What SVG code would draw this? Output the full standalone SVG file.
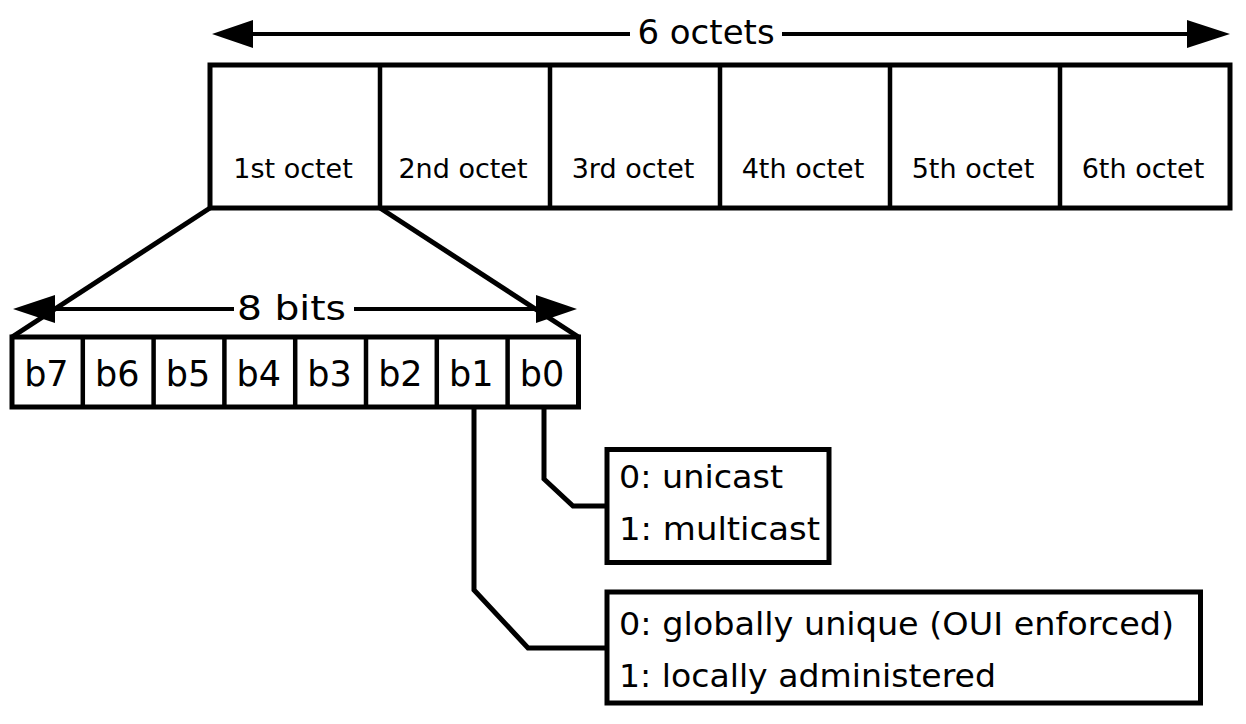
<svg xmlns="http://www.w3.org/2000/svg" width="1246" height="724" viewBox="0 0 1246 724">
  <style>
    .box { fill: #fff; stroke: #000; stroke-width: 5; }
    .div { stroke: #000; stroke-width: 4.5; fill: none; }
    .ln { stroke: #000; stroke-width: 5; fill: none; stroke-linejoin: miter; }
    .dim { stroke: #000; stroke-width: 4; fill: none; }
    text { font-family: "DejaVu Sans", sans-serif; fill: #000; }
    .oct { font-size: 27px; text-anchor: middle; }
    .bit { font-size: 35px; text-anchor: middle; }
    .big { font-size: 34px; text-anchor: middle; }
    .lbl { font-size: 32px; }
  </style>

  <g id="dim-6octets">
    <line class="dim" x1="253" y1="34" x2="630" y2="34"/>
    <line class="dim" x1="782" y1="34" x2="1187" y2="34"/>
    <path d="M212,34 L253,20 L253,48 Z" fill="#000"/>
    <path d="M1230,34 L1187,20 L1187,48 Z" fill="#000"/>
    <text class="big" x="706" y="44">6 octets</text>
  </g>

  <g id="octets">
    <rect class="box" x="210" y="65" width="1020" height="143"/>
    <line class="div" x1="380" y1="65" x2="380" y2="208"/>
    <line class="div" x1="550" y1="65" x2="550" y2="208"/>
    <line class="div" x1="720" y1="65" x2="720" y2="208"/>
    <line class="div" x1="890" y1="65" x2="890" y2="208"/>
    <line class="div" x1="1060" y1="65" x2="1060" y2="208"/>
    <text class="oct" x="293" y="178">1st octet</text>
    <text class="oct" x="463" y="178">2nd octet</text>
    <text class="oct" x="633" y="178">3rd octet</text>
    <text class="oct" x="803" y="178">4th octet</text>
    <text class="oct" x="973" y="178">5th octet</text>
    <text class="oct" x="1143" y="178">6th octet</text>
  </g>

  <g id="connectors">
    <polyline class="ln" points="210,208 12,337"/>
    <polyline class="ln" points="380,208 578.5,337"/>
    <polyline class="ln" points="544,407 544,479 573,506 607,506"/>
    <polyline class="ln" points="474,407 474,590 528,648 607,648"/>
  </g>

  <g id="dim-8bits">
    <line class="dim" x1="55" y1="309" x2="234" y2="309"/>
    <line class="dim" x1="354" y1="309" x2="537" y2="309"/>
    <path d="M13,309 L55,295 L55,323 Z" fill="#000"/>
    <path d="M577,309 L536,295 L536,323 Z" fill="#000"/>
    <text x="237" y="320" style="font-size:34px" textLength="109" lengthAdjust="spacingAndGlyphs">8 bits</text>
  </g>

  <g id="bits">
    <rect class="box" x="12" y="337" width="566.5" height="70"/>
    <line class="div" x1="82.8" y1="337" x2="82.8" y2="407"/>
    <line class="div" x1="153.6" y1="337" x2="153.6" y2="407"/>
    <line class="div" x1="224.4" y1="337" x2="224.4" y2="407"/>
    <line class="div" x1="295.2" y1="337" x2="295.2" y2="407"/>
    <line class="div" x1="366" y1="337" x2="366" y2="407"/>
    <line class="div" x1="436.8" y1="337" x2="436.8" y2="407"/>
    <line class="div" x1="507.6" y1="337" x2="507.6" y2="407"/>
    <text class="bit" x="46.4" y="386">b7</text>
    <text class="bit" x="117.2" y="386">b6</text>
    <text class="bit" x="188" y="386">b5</text>
    <text class="bit" x="258.8" y="386">b4</text>
    <text class="bit" x="329.6" y="386">b3</text>
    <text class="bit" x="400.4" y="386">b2</text>
    <text class="bit" x="471.2" y="386">b1</text>
    <text class="bit" x="542" y="386">b0</text>
  </g>

  <g id="cast">
    <rect class="box" x="607" y="449.5" width="222" height="113"/>
    <text class="lbl" x="619" y="488" textLength="164" lengthAdjust="spacingAndGlyphs">0: unicast</text>
    <text class="lbl" x="619" y="540" textLength="201" lengthAdjust="spacingAndGlyphs">1: multicast</text>
  </g>

  <g id="admin">
    <rect class="box" x="607" y="592" width="593.5" height="111"/>
    <text class="lbl" x="619" y="635" textLength="555" lengthAdjust="spacingAndGlyphs">0: globally unique (OUI enforced)</text>
    <text class="lbl" x="619" y="687" textLength="377" lengthAdjust="spacingAndGlyphs">1: locally administered</text>
  </g>
</svg>
